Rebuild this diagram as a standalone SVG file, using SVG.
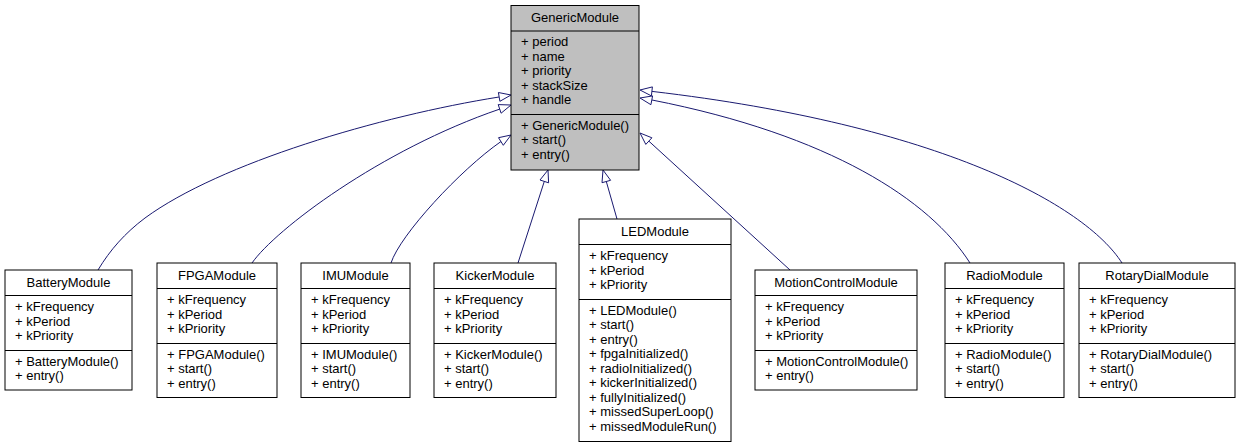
<svg xmlns="http://www.w3.org/2000/svg" width="1241" height="448" viewBox="0 0 1241 448">
<style>
  .bg { fill: #ffffff; }
  .box { fill: #ffffff; stroke: #000000; stroke-width: 1; }
  .gen { fill: #bfbfbf; stroke: #000000; stroke-width: 1; }
  .sep { stroke: #000000; stroke-width: 1; }
  text { font-family: "Liberation Sans", Arial, sans-serif; font-size: 13px; fill: #000000; }
  .title { text-anchor: middle; }
  .edge { fill: none; stroke: #191970; stroke-width: 1; }
  .head { fill: #ffffff; stroke: #191970; stroke-width: 1; }
</style>
<rect class="bg" x="0" y="0" width="1241" height="448"/>

<g id="connectors">
  <path class="edge" d="M98,270 C110,250 125,233 145,218 C220,163 380,116 499,97"/>
  <polygon class="head" points="499.9,101.3 511,95 498.4,92.5"/>
  <path class="edge" d="M252,263 C275,230 380,150 500,109"/>
  <polygon class="head" points="501.1,113.2 511,105 498.2,104.6"/>
  <path class="edge" d="M391,263 C400,235 460,170 501,141.5"/>
  <polygon class="head" points="503.3,145.3 511,135 498.5,137.7"/>
  <path class="edge" d="M518,263 L544.3,181.4"/>
  <polygon class="head" points="548.6,182.8 548,170 540,180"/>
  <path class="edge" d="M617,219 L606.3,181.5"/>
  <polygon class="head" points="610.6,180.3 603,170 602,182.7"/>
  <path class="edge" d="M790,270 L648.8,141.1"/>
  <polygon class="head" points="651.9,137.8 640,133 645.8,144.4"/>
  <path class="edge" d="M970,263 C930,200 830,135 652,100"/>
  <polygon class="head" points="652.6,95.9 640,98 650.9,104.7"/>
  <path class="edge" d="M1122,263 C1085,205 940,125 652,91.4"/>
  <polygon class="head" points="652.4,86.9 640,90 651.4,95.9"/>
</g>

<g id="GenericModule">
  <rect class="gen" x="511" y="5.5" width="128" height="164.5"/>
  <line class="sep" x1="511" y1="31" x2="639" y2="31"/>
  <line class="sep" x1="511" y1="114.5" x2="639" y2="114.5"/>
  <text class="title" x="575" y="21.5">GenericModule</text>
  <text x="521" y="46">+ period</text>
  <text x="521" y="60.5">+ name</text>
  <text x="521" y="75">+ priority</text>
  <text x="521" y="89.5">+ stackSize</text>
  <text x="521" y="104">+ handle</text>
  <text x="521" y="129.5">+ GenericModule()</text>
  <text x="521" y="144">+ start()</text>
  <text x="521" y="158.5">+ entry()</text>
</g>

<g id="BatteryModule">
  <rect class="box" x="5" y="270" width="127" height="120"/>
  <line class="sep" x1="5" y1="295.5" x2="132" y2="295.5"/>
  <line class="sep" x1="5" y1="350.5" x2="132" y2="350.5"/>
  <text class="title" x="68.5" y="286.5">BatteryModule</text>
  <text x="15" y="311">+ kFrequency</text>
  <text x="15" y="325.5">+ kPeriod</text>
  <text x="15" y="340">+ kPriority</text>
  <text x="15" y="365.5">+ BatteryModule()</text>
  <text x="15" y="380">+ entry()</text>
</g>

<g id="FPGAModule">
  <rect class="box" x="157" y="263" width="120" height="134.5"/>
  <line class="sep" x1="157" y1="288.5" x2="277" y2="288.5"/>
  <line class="sep" x1="157" y1="343.5" x2="277" y2="343.5"/>
  <text class="title" x="217" y="279.5">FPGAModule</text>
  <text x="167" y="304">+ kFrequency</text>
  <text x="167" y="318.5">+ kPeriod</text>
  <text x="167" y="333">+ kPriority</text>
  <text x="167" y="358.5">+ FPGAModule()</text>
  <text x="167" y="373">+ start()</text>
  <text x="167" y="387.5">+ entry()</text>
</g>

<g id="IMUModule">
  <rect class="box" x="301" y="263" width="109" height="134.5"/>
  <line class="sep" x1="301" y1="288.5" x2="410" y2="288.5"/>
  <line class="sep" x1="301" y1="343.5" x2="410" y2="343.5"/>
  <text class="title" x="355.5" y="279.5">IMUModule</text>
  <text x="311" y="304">+ kFrequency</text>
  <text x="311" y="318.5">+ kPeriod</text>
  <text x="311" y="333">+ kPriority</text>
  <text x="311" y="358.5">+ IMUModule()</text>
  <text x="311" y="373">+ start()</text>
  <text x="311" y="387.5">+ entry()</text>
</g>

<g id="KickerModule">
  <rect class="box" x="434" y="263" width="122" height="134.5"/>
  <line class="sep" x1="434" y1="288.5" x2="556" y2="288.5"/>
  <line class="sep" x1="434" y1="343.5" x2="556" y2="343.5"/>
  <text class="title" x="495" y="279.5">KickerModule</text>
  <text x="444" y="304">+ kFrequency</text>
  <text x="444" y="318.5">+ kPeriod</text>
  <text x="444" y="333">+ kPriority</text>
  <text x="444" y="358.5">+ KickerModule()</text>
  <text x="444" y="373">+ start()</text>
  <text x="444" y="387.5">+ entry()</text>
</g>

<g id="LEDModule">
  <rect class="box" x="579" y="219" width="152" height="222.5"/>
  <line class="sep" x1="579" y1="244.5" x2="731" y2="244.5"/>
  <line class="sep" x1="579" y1="299.5" x2="731" y2="299.5"/>
  <text class="title" x="655" y="235.5">LEDModule</text>
  <text x="589" y="260">+ kFrequency</text>
  <text x="589" y="274.5">+ kPeriod</text>
  <text x="589" y="289">+ kPriority</text>
  <text x="589" y="314.5">+ LEDModule()</text>
  <text x="589" y="329">+ start()</text>
  <text x="589" y="343.5">+ entry()</text>
  <text x="589" y="358">+ fpgaInitialized()</text>
  <text x="589" y="372.5">+ radioInitialized()</text>
  <text x="589" y="387">+ kickerInitialized()</text>
  <text x="589" y="401.5">+ fullyInitialized()</text>
  <text x="589" y="416">+ missedSuperLoop()</text>
  <text x="589" y="430.5">+ missedModuleRun()</text>
</g>

<g id="MotionControlModule">
  <rect class="box" x="755" y="270" width="162" height="120"/>
  <line class="sep" x1="755" y1="295.5" x2="917" y2="295.5"/>
  <line class="sep" x1="755" y1="350.5" x2="917" y2="350.5"/>
  <text class="title" x="836" y="286.5">MotionControlModule</text>
  <text x="765" y="311">+ kFrequency</text>
  <text x="765" y="325.5">+ kPeriod</text>
  <text x="765" y="340">+ kPriority</text>
  <text x="765" y="365.5">+ MotionControlModule()</text>
  <text x="765" y="380">+ entry()</text>
</g>

<g id="RadioModule">
  <rect class="box" x="945" y="263" width="119" height="134.5"/>
  <line class="sep" x1="945" y1="288.5" x2="1064" y2="288.5"/>
  <line class="sep" x1="945" y1="343.5" x2="1064" y2="343.5"/>
  <text class="title" x="1004.5" y="279.5">RadioModule</text>
  <text x="955" y="304">+ kFrequency</text>
  <text x="955" y="318.5">+ kPeriod</text>
  <text x="955" y="333">+ kPriority</text>
  <text x="955" y="358.5">+ RadioModule()</text>
  <text x="955" y="373">+ start()</text>
  <text x="955" y="387.5">+ entry()</text>
</g>

<g id="RotaryDialModule">
  <rect class="box" x="1079" y="263" width="156" height="134.5"/>
  <line class="sep" x1="1079" y1="288.5" x2="1235" y2="288.5"/>
  <line class="sep" x1="1079" y1="343.5" x2="1235" y2="343.5"/>
  <text class="title" x="1157" y="279.5">RotaryDialModule</text>
  <text x="1089" y="304">+ kFrequency</text>
  <text x="1089" y="318.5">+ kPeriod</text>
  <text x="1089" y="333">+ kPriority</text>
  <text x="1089" y="358.5">+ RotaryDialModule()</text>
  <text x="1089" y="373">+ start()</text>
  <text x="1089" y="387.5">+ entry()</text>
</g>
</svg>
